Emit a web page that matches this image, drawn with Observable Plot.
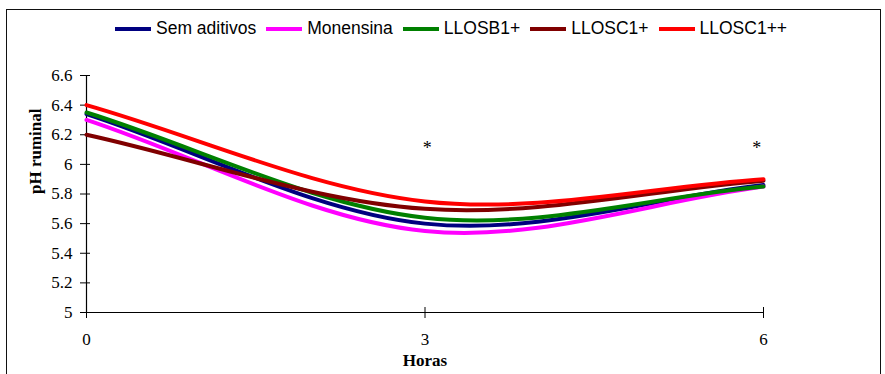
<!DOCTYPE html>
<html>
<head>
<meta charset="utf-8">
<script src="https://cdn.jsdelivr.net/npm/d3@7"></script>
<script src="https://cdn.jsdelivr.net/npm/@observablehq/plot@0.6"></script>
<style>
  html, body { margin: 0; padding: 0; background: #fff; }
  #wrap { position: relative; width: 885px; height: 374px; overflow: hidden; }
  #border { position: absolute; left: 6px; top: 9px; width: 875px; height: 420px; border: 1.5px solid #111; box-sizing: border-box; }
  #legend { position: absolute; left: 115px; top: 18px; display: flex; align-items: center;
            font-family: "Liberation Sans", Arial, sans-serif; font-size: 17.5px; color: #000; }
  .item { display: flex; align-items: center; margin-right: 10px; }
  .sw { width: 36px; height: 4px; margin-right: 5px; }
  #chart { position: absolute; left: 0; top: 0; }
</style>
</head>
<body>
<div id="wrap">
  <div id="border"></div>
  <div id="chart"></div>
  <div id="legend"></div>
</div>
<script>
// Data
const hours = [0, 3, 6];
const seriesNames = ["Sem aditivos", "Monensina", "LLOSB1+", "LLOSC1+", "LLOSC1++"];
const semAditivos = [6.34, 5.60, 5.86];
const monensina   = [6.30, 5.55, 5.85];
const llosb1      = [6.35, 5.64, 5.85];
const llosc1      = [6.20, 5.70, 5.89];
const llosc1pp    = [6.40, 5.75, 5.90];
const yTicks = [5, 5.2, 5.4, 5.6, 5.8, 6, 6.2, 6.4, 6.6];
const sigX = [3.02, 5.94];
const sigY = [6.11, 6.11];

const colors = ["#000080", "#FF00FF", "#008000", "#800000", "#FF0000"];
const seriesValues = [semAditivos, monensina, llosb1, llosc1, llosc1pp];

const rows = [];
seriesNames.forEach((name, i) => {
  hours.forEach((h, j) => rows.push({series: name, hora: h, ph: seriesValues[i][j]}));
});
const sig = sigX.map((x, i) => ({x, y: sigY[i]}));

// Spreadsheet-style smoothed line (Bezier through the points)
function smoothCurve(context) {
  let pts = [];
  return {
    areaStart() {}, areaEnd() {},
    lineStart() { pts = []; },
    lineEnd() {
      const n = pts.length;
      if (!n) return;
      context.moveTo(pts[0][0], pts[0][1]);
      for (let i = 0; i < n - 1; i++) {
        const p0 = pts[i - 1], p1 = pts[i], p2 = pts[i + 1], p3 = pts[i + 2];
        const c1 = p0 ? [p1[0] + (p2[0] - p0[0]) / 6, p1[1] + (p2[1] - p0[1]) / 6]
                      : [p1[0] + (p2[0] - p1[0]) / 3, p1[1] + (p2[1] - p1[1]) / 3];
        const c2 = p3 ? [p2[0] - (p3[0] - p1[0]) / 6, p2[1] - (p3[1] - p1[1]) / 6]
                      : [p2[0] - (p2[0] - p1[0]) / 3, p2[1] - (p2[1] - p1[1]) / 3];
        context.bezierCurveTo(c1[0], c1[1], c2[0], c2[1], p2[0], p2[1]);
      }
    },
    point(x, y) { pts.push([+x, +y]); }
  };
}

const chart = Plot.plot({
  width: 885,
  height: 374,
  marginLeft: 86,
  marginRight: 122,
  marginTop: 75,
  marginBottom: 62,
  style: {background: "transparent", fontFamily: "'Liberation Serif', 'Times New Roman', serif", fontSize: "17px", color: "#000"},
  x: {domain: [0, 6]},
  y: {domain: [5, 6.6]},
  color: {domain: seriesNames, range: colors},
  marks: [
    Plot.axisY({ticks: yTicks, tickSize: 10, dx: 4, tickPadding: 8, label: null,
                tickFormat: d => String(+d.toFixed(1))}),
    Plot.axisX({ticks: hours, tickSize: 11, dy: -5, tickPadding: 14, label: null,
                tickFormat: d => String(d)}),
    Plot.ruleX([0], {stroke: "#000", strokeWidth: 1.2}),
    Plot.ruleY([5], {stroke: "#000", strokeWidth: 1.2}),
    Plot.line(rows, {x: "hora", y: "ph", z: "series", stroke: "series", strokeWidth: 4, curve: smoothCurve}),
    Plot.text(sig, {x: "x", y: "y", text: () => "*", fontSize: 18, lineAnchor: "middle"}),
    Plot.text(["pH ruminal"], {frameAnchor: "left", dx: -51, rotate: -90, text: d => d,
                               fontWeight: "bold", fontSize: 17, lineAnchor: "middle"}),
    Plot.text(["Horas"], {frameAnchor: "bottom", dy: 48, text: d => d,
                          fontWeight: "bold", fontSize: 17, lineAnchor: "middle"})
  ]
});
document.getElementById("chart").appendChild(chart);

const legend = document.getElementById("legend");
seriesNames.forEach((name, i) => {
  const item = document.createElement("div");
  item.className = "item";
  const sw = document.createElement("div");
  sw.className = "sw";
  sw.style.background = colors[i];
  const label = document.createElement("span");
  label.textContent = name;
  item.appendChild(sw);
  item.appendChild(label);
  legend.appendChild(item);
});
</script>
</body>
</html>
